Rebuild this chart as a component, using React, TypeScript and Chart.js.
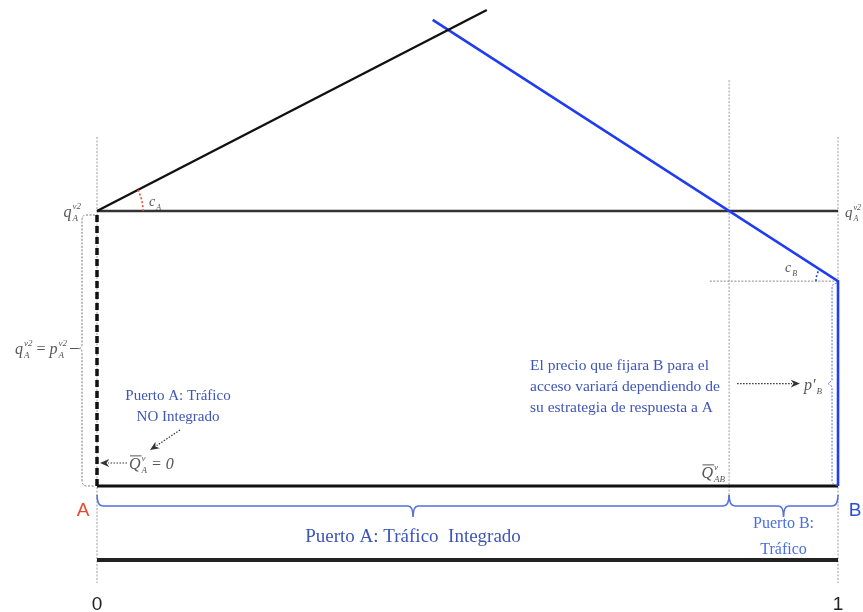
import React, { useEffect, useRef } from "react";
import { Chart, registerables } from "chart.js";

Chart.register(...registerables);

// ---- data (diagram values, in model units) ----
const xTicks = [0, 1];
const tickLabels = ["0", "1"];
const endpointLabels = ["A", "B"];
const qLevel = [1, 1]; // q_A^{v2} level at x = 0 and x = 1
const qABx = [0.853]; // \bar Q_AB^v
const pBLevel = [0.745]; // p'_B level
const costAX = [0, 0.526];
const costAY = [1, 1.731];
const demandBX = [0.453, 1, 1];
const demandBY = [1.695, 0.745, 0];
const lowerAxisY = [-0.269];
const guideTop = [1.269];
const guideBottom = [-0.353];
const qABguide = [1.476, -0.051];
const pBguideStartX = [0.827];

// view window
const X_MIN = -0.1309;
const X_MAX = 1.0337;
const Y_MIN = -0.4582;
const Y_MAX = 1.7673;

const SERIF = '"Liberation Serif", "DejaVu Serif", serif';
const SANS = '"Liberation Sans", Arial, sans-serif';

type Seg = { t: string; it?: boolean; sub?: string; sup?: string; over?: boolean };

function segW(ctx: CanvasRenderingContext2D, s: Seg, size: number) {
  ctx.font = `${s.it ? "italic " : ""}${size}px ${SERIF}`;
  const w = ctx.measureText(s.t).width;
  ctx.font = `italic ${Math.round(size * 0.55)}px ${SERIF}`;
  const a = s.sub ? ctx.measureText(s.sub).width : 0;
  const b = s.sup ? ctx.measureText(s.sup).width : 0;
  return { w, extra: Math.max(a, b) + (s.sub || s.sup ? 1 : 0) };
}

function drawSeq(
  ctx: CanvasRenderingContext2D,
  x: number,
  y: number,
  segs: Seg[],
  size: number,
  color: string,
  align: "left" | "right" | "center" = "left"
) {
  let total = 0;
  const ms = segs.map((s) => {
    const m = segW(ctx, s, size);
    total += m.w + m.extra;
    return m;
  });
  let cx = align === "right" ? x - total : align === "center" ? x - total / 2 : x;
  ctx.fillStyle = color;
  ctx.strokeStyle = color;
  ctx.textAlign = "left";
  ctx.textBaseline = "alphabetic";
  segs.forEach((s, i) => {
    const m = ms[i];
    ctx.font = `${s.it ? "italic " : ""}${size}px ${SERIF}`;
    ctx.fillText(s.t, cx, y);
    if (s.over) {
      ctx.lineWidth = 1;
      ctx.setLineDash([]);
      ctx.beginPath();
      ctx.moveTo(cx + 1, y - size * 0.82);
      ctx.lineTo(cx + m.w + 1, y - size * 0.82);
      ctx.stroke();
    }
    ctx.font = `italic ${Math.round(size * 0.55)}px ${SERIF}`;
    if (s.sub) ctx.fillText(s.sub, cx + m.w + 1, y + size * 0.25);
    if (s.sup) ctx.fillText(s.sup, cx + m.w + 1, y - size * 0.5);
    cx += m.w + m.extra;
  });
}

function arrow(
  ctx: CanvasRenderingContext2D,
  x1: number,
  y1: number,
  x2: number,
  y2: number,
  color: string
) {
  ctx.save();
  ctx.strokeStyle = color;
  ctx.fillStyle = color;
  ctx.lineWidth = 1.2;
  ctx.setLineDash([1.5, 1.5]);
  const ang = Math.atan2(y2 - y1, x2 - x1);
  const hx = x2 - Math.cos(ang) * 8;
  const hy = y2 - Math.sin(ang) * 8;
  ctx.beginPath();
  ctx.moveTo(x1, y1);
  ctx.lineTo(hx, hy);
  ctx.stroke();
  ctx.setLineDash([]);
  ctx.beginPath();
  ctx.moveTo(x2, y2);
  ctx.lineTo(x2 - Math.cos(ang - 0.4) * 10, y2 - Math.sin(ang - 0.4) * 10);
  ctx.lineTo(hx + Math.cos(ang) * 1.5, hy + Math.sin(ang) * 1.5);
  ctx.lineTo(x2 - Math.cos(ang + 0.4) * 10, y2 - Math.sin(ang + 0.4) * 10);
  ctx.closePath();
  ctx.fill();
  ctx.restore();
}

function brace(
  ctx: CanvasRenderingContext2D,
  x1: number,
  x2: number,
  yTop: number,
  yMid: number,
  yTip: number,
  color: string
) {
  const xc = (x1 + x2) / 2;
  ctx.save();
  ctx.strokeStyle = color;
  ctx.lineWidth = 1.6;
  ctx.setLineDash([]);
  ctx.beginPath();
  ctx.moveTo(x1, yTop);
  ctx.quadraticCurveTo(x1, yMid, x1 + 6, yMid);
  ctx.lineTo(xc - 5, yMid);
  ctx.quadraticCurveTo(xc, yMid, xc, yTip);
  ctx.quadraticCurveTo(xc, yMid, xc + 5, yMid);
  ctx.lineTo(x2 - 6, yMid);
  ctx.quadraticCurveTo(x2, yMid, x2, yTop);
  ctx.stroke();
  ctx.restore();
}

const annotations = {
  id: "annotations",
  afterDatasetsDraw(chart: any) {
    const ctx: CanvasRenderingContext2D = chart.ctx;
    const xs = chart.scales.x;
    const ys = chart.scales.y;
    const px = (v: number) => xs.getPixelForValue(v);
    const py = (v: number) => ys.getPixelForValue(v);
    const x0 = px(xTicks[0]);
    const x1 = px(xTicks[1]);
    const xq = px(qABx[0]);
    const yq = py(qLevel[0]);
    const y0 = py(0);
    const yp = py(pBLevel[0]);
    const blueText = "#3d55b8";
    const gray = "#555";

    ctx.save();
    // c_A arc
    const angA = Math.atan2(py(costAY[1]) - py(costAY[0]), px(costAX[1]) - px(costAX[0]));
    ctx.strokeStyle = "#e8503c";
    ctx.lineWidth = 1.6;
    ctx.setLineDash([2, 2]);
    ctx.beginPath();
    ctx.arc(x0, yq, 46, angA, 0);
    ctx.stroke();
    // c_B arc
    const angB = Math.atan2(py(demandBY[0]) - py(demandBY[1]), px(demandBX[0]) - px(demandBX[1]));
    ctx.strokeStyle = "#2a44e0";
    ctx.beginPath();
    ctx.arc(x1, yp, 22, Math.PI, angB + 2 * Math.PI);
    ctx.stroke();

    // left bracket q = p
    ctx.strokeStyle = "#777";
    ctx.lineWidth = 1;
    ctx.setLineDash([2, 1.5]);
    const bx = x0 - 15;
    const ym = (yq + y0) / 2;
    ctx.beginPath();
    ctx.moveTo(x0 - 2, yq + 4);
    ctx.lineTo(bx + 4, yq + 4);
    ctx.quadraticCurveTo(bx, yq + 4, bx, yq + 9);
    ctx.lineTo(bx, ym - 4);
    ctx.quadraticCurveTo(bx, ym, bx - 4, ym);
    ctx.quadraticCurveTo(bx, ym, bx, ym + 4);
    ctx.lineTo(bx, y0 - 6);
    ctx.quadraticCurveTo(bx, y0, bx + 5, y0);
    ctx.lineTo(x0 - 2, y0);
    ctx.stroke();
    ctx.setLineDash([]);
    ctx.strokeStyle = "#555";
    ctx.beginPath();
    ctx.moveTo(bx - 12, ym);
    ctx.lineTo(bx - 4, ym);
    ctx.stroke();

    // right blue bracket p'_B
    ctx.strokeStyle = "#4a6ef0";
    ctx.lineWidth = 1;
    ctx.setLineDash([2, 1.5]);
    const rx = x1 - 6;
    const rm = (yp + y0) / 2;
    ctx.beginPath();
    ctx.moveTo(x1 - 1, yp + 2);
    ctx.quadraticCurveTo(rx, yp + 2, rx, yp + 7);
    ctx.lineTo(rx, rm - 3);
    ctx.lineTo(rx - 4, rm);
    ctx.lineTo(rx, rm + 3);
    ctx.lineTo(rx, y0 - 5);
    ctx.quadraticCurveTo(rx, y0 - 1, x1 - 1, y0 - 1);
    ctx.stroke();
    ctx.setLineDash([]);

    // braces
    brace(ctx, x0, xq, y0 + 9, y0 + 20, y0 + 31, "#5570dc");
    brace(ctx, xq, x1, y0 + 9, y0 + 20, y0 + 31, "#5570dc");

    // arrows
    arrow(ctx, 127, 463, x0 + 3, 463, "#333");
    arrow(ctx, 180, 430, 150, 450, "#333");
    arrow(ctx, xq + 8, rm, 800, rm, "#333");

    // math labels
    drawSeq(ctx, x0 - 16, yq + 6, [{ t: "q", it: true, sub: "A", sup: "v2" }], 16, gray, "right");
    drawSeq(ctx, x1 + 7, yq + 6, [{ t: "q", it: true, sub: "A", sup: "v2" }], 15, gray, "left");
    drawSeq(
      ctx,
      x0 - 30,
      ym + 5,
      [
        { t: "q", it: true, sub: "A", sup: "v2" },
        { t: " = " },
        { t: "p", it: true, sub: "A", sup: "v2" },
      ],
      16,
      gray,
      "right"
    );
    drawSeq(ctx, x0 + 52, yq - 5, [{ t: "c", it: true, sub: "A" }], 14, gray, "left");
    drawSeq(ctx, x1 - 53, yp - 9, [{ t: "c", it: true, sub: "B" }], 14, gray, "left");
    drawSeq(ctx, 804, rm + 6, [{ t: "p′", it: true, sub: "B" }], 16, gray, "left");
    drawSeq(
      ctx,
      129,
      y0 - 17,
      [{ t: "Q", it: true, over: true, sub: "A", sup: "v" }, { t: " = 0", it: true }],
      16,
      gray,
      "left"
    );
    drawSeq(ctx, xq - 4, y0 - 8, [{ t: "Q", it: true, over: true, sub: "AB", sup: "v" }], 16, gray, "right");

    // blue texts
    ctx.fillStyle = blueText;
    ctx.textAlign = "center";
    ctx.textBaseline = "alphabetic";
    ctx.font = `19px ${SERIF}`;
    ctx.fillText("Puerto A: Tráfico  Integrado", (x0 + xq) / 2, y0 + 56);
    ctx.font = `16px ${SERIF}`;
    ctx.fillStyle = "#4a6ee0";
    ctx.fillText("Puerto B:", (xq + x1) / 2, y0 + 42);
    ctx.fillText("Tráfico", (xq + x1) / 2, y0 + 68);
    ctx.fillStyle = blueText;
    ctx.font = `15px ${SERIF}`;
    ctx.fillText("Puerto A: Tráfico", 178, 400);
    ctx.fillText("NO Integrado", 178, 421);
    ctx.textAlign = "left";
    ctx.font = `15.5px ${SERIF}`;
    ctx.fillText("El precio que fijara B para el", 530, 370);
    ctx.fillText("acceso variará dependiendo de", 530, 391);
    ctx.fillText("su estrategia de respuesta a A", 530, 412);

    // endpoint labels and ticks
    ctx.font = `19px ${SANS}`;
    ctx.textAlign = "center";
    ctx.textBaseline = "middle";
    ctx.fillStyle = "#e8482c";
    ctx.fillText(endpointLabels[0], x0 - 14, y0 + 25);
    ctx.fillStyle = "#2a4fd0";
    ctx.fillText(endpointLabels[1], x1 + 17, y0 + 25);
    ctx.fillStyle = "#222";
    ctx.font = `19px ${SANS}`;
    xTicks.forEach((t, i) => ctx.fillText(tickLabels[i], px(t), py(lowerAxisY[0]) + 45));
    ctx.restore();
  },
};

const line = (data: { x: number; y: number }[], color: string, width: number, dash: number[] = []) => ({
  data,
  borderColor: color,
  borderWidth: width,
  borderDash: dash,
  showLine: true,
  pointRadius: 0,
  fill: false,
  tension: 0,
});

export default function App() {
  const ref = useRef<HTMLCanvasElement | null>(null);
  useEffect(() => {
    if (!ref.current) return;
    const guideColor = "#9a9a9a";
    const datasets = [
      line(costAX.map((x, i) => ({ x, y: costAY[i] })), "#111", 2.4),
      line(demandBX.map((x, i) => ({ x, y: demandBY[i] })), "#1f3cf2", 2.6),
      line([{ x: xTicks[0], y: qLevel[0] }, { x: xTicks[1], y: qLevel[1] }], "#333", 2.4),
      line([{ x: xTicks[0], y: 0 }, { x: xTicks[1], y: 0 }], "#111", 3),
      line([{ x: xTicks[0], y: lowerAxisY[0] }, { x: xTicks[1], y: lowerAxisY[0] }], "#222", 4),
      line([{ x: xTicks[0], y: 0 }, { x: xTicks[0], y: qLevel[0] }], "#111", 3.5, [7, 4]),
      line([{ x: xTicks[0], y: guideTop[0] }, { x: xTicks[0], y: guideBottom[0] }], guideColor, 1, [2, 1.5]),
      line([{ x: xTicks[1], y: guideTop[0] }, { x: xTicks[1], y: guideBottom[0] }], guideColor, 1, [2, 1.5]),
      line([{ x: qABx[0], y: qABguide[0] }, { x: qABx[0], y: qABguide[1] }], guideColor, 1, [2, 1.5]),
      line([{ x: pBguideStartX[0], y: pBLevel[0] }, { x: xTicks[1], y: pBLevel[0] }], "#888", 1, [2, 1.5]),
    ].map((d, i) => ({ ...d, order: i }));
    const chart = new Chart(ref.current, {
      type: "scatter",
      data: { datasets: datasets as any },
      options: {
        animation: false,
        responsive: false,
        maintainAspectRatio: false,
        layout: { padding: 0 },
        plugins: { legend: { display: false }, tooltip: { enabled: false } },
        scales: {
          x: { type: "linear", min: X_MIN, max: X_MAX, display: false },
          y: { type: "linear", min: Y_MIN, max: Y_MAX, display: false },
        },
      },
      plugins: [annotations],
    });
    return () => chart.destroy();
  }, []);
  return (
    <div style={{ position: "absolute", left: 0, top: 0, width: 863, height: 612, background: "#fff" }}>
      <canvas ref={ref} width={863} height={612} style={{ display: "block" }} />
    </div>
  );
}
